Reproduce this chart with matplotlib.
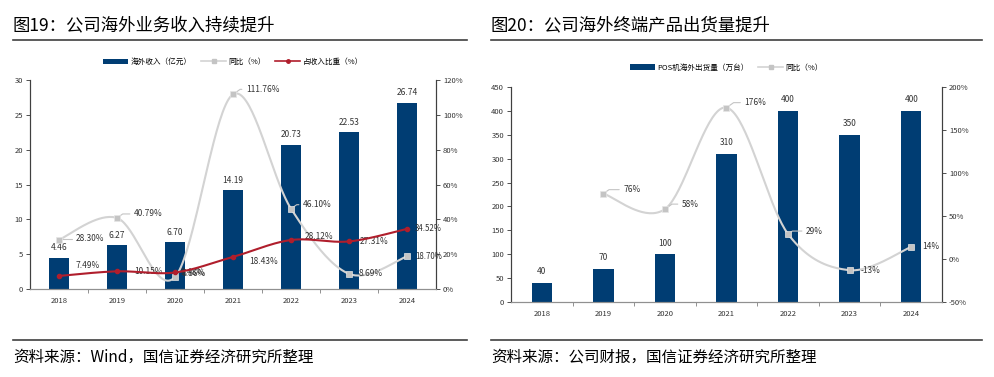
import numpy as np
import matplotlib
matplotlib.use('Agg')
import matplotlib.pyplot as plt
from matplotlib.lines import Line2D
from matplotlib.patches import Patch

plt.rcParams['font.family'] = ['Noto Sans CJK SC', 'DejaVu Sans']

# data
years = ['2018', '2019', '2020', '2021', '2022', '2023', '2024']
rev = [4.46, 6.27, 6.70, 14.19, 20.73, 22.53, 26.74]          # 海外收入（亿元）
rev_yoy = [28.30, 40.79, 6.86, 111.76, 46.10, 8.69, 18.70]    # 同比（%）
rev_share = [7.49, 10.15, 9.48, 18.43, 28.12, 27.31, 34.52]   # 占收入比重（%）

pos_years = ['2018', '2019', '2020', '2021', '2022', '2023', '2024']
pos_ship = [40, 70, 100, 310, 400, 350, 400]                  # POS机海外出货量（万台）
pos_yoy = [76, 58, 176, 29, -13, 14]                          # 同比（%），2019起

BAR = '#003D73'
RED = '#B01E2C'
GRAY = '#D3D3D3'
MGRAY = '#C4C4C4'
W, H = 995, 377


def smooth(x, y, n=40):
    # bezier smoothing like the office charts
    x = np.asarray(x, float)
    y = np.asarray(y, float)
    P = np.c_[x, y]
    P = np.vstack([P[0], P, P[-1]])
    t = np.linspace(0, 1, n)[:, None]
    out = []
    for k in range(len(x) - 1):
        p0, p1, p2, p3 = P[k], P[k + 1], P[k + 2], P[k + 3]
        c1 = p1 + (p2 - p0) / 6
        c2 = p2 - (p3 - p1) / 6
        seg = (1 - t) ** 3 * p1 + 3 * (1 - t) ** 2 * t * c1 + 3 * (1 - t) * t ** 2 * c2 + t ** 3 * p2
        out.append(seg)
    out = np.vstack(out)
    return out[:, 0], out[:, 1]


def px_axes(fig, x0, y0, x1, y1):
    return fig.add_axes([x0 / W, 1 - y1 / H, (x1 - x0) / W, (y1 - y0) / H])


def style_axes(ax, axr, n):
    ax.set_xlim(-0.5, n - 0.5)
    ax.set_xticks(range(n))
    ax.set_xticks(np.arange(0.5, n - 0.5, 1), minor=True)
    ax.tick_params(axis='x', which='major', length=0, labelsize=5.5, pad=6, colors='#333333')
    ax.tick_params(axis='x', which='minor', length=3, width=0.6, color='#808080')
    ax.tick_params(axis='y', length=3, width=0.6, labelsize=5.5, pad=2, colors='#333333')
    axr.tick_params(axis='y', length=3, width=0.6, labelsize=5.5, pad=2, colors='#333333')
    for a in (ax, axr):
        a.spines['top'].set_visible(False)
        a.spines['left'].set_color('#404040')
        a.spines['right'].set_color('#404040')
        a.spines['bottom'].set_color('#909090')
        for s in a.spines.values():
            s.set_linewidth(0.8)


def label(ax, x, y, txt, dx, dy, leader=False, fs=6):
    kw = dict(textcoords='offset pixels', ha='left', va='center', fontsize=fs, color='#333333')
    if leader:
        kw['arrowprops'] = dict(arrowstyle='-', color=MGRAY, lw=0.8, shrinkA=1, shrinkB=2,
                                connectionstyle='angle,angleA=0,angleB=35,rad=0')
    ax.annotate(txt, (x, y), xytext=(dx, dy), **kw)


fig = plt.figure(figsize=(W / 100, H / 100), dpi=100)

# titles, rules and sources
fig.text(13 / W, 1 - 25 / H, '图19：公司海外业务收入持续提升', fontsize=12.5, va='center')
fig.text(491 / W, 1 - 25 / H, '图20：公司海外终端产品出货量提升', fontsize=12.5, va='center')
fig.text(13 / W, 1 - 357.5 / H, '资料来源：Wind，国信证券经济研究所整理', fontsize=11.2, va='center')
fig.text(491 / W, 1 - 357.5 / H, '资料来源：公司财报，国信证券经济研究所整理', fontsize=11.2, va='center')
for x0, x1 in ((13, 467), (491, 982)):
    for yy in (39.5, 340):
        fig.add_artist(Line2D([x0 / W, x1 / W], [1 - yy / H, 1 - yy / H], color='#404040', lw=1.2))

# ---- 图19
ax1 = px_axes(fig, 30, 80, 436, 289)
ax1r = ax1.twinx()
xs = np.arange(len(years))
ax1.bar(xs, rev, width=0.33, color=BAR, zorder=2)
ax1.set_ylim(0, 30)
ax1.set_yticks(range(0, 31, 5))
ax1.set_xticklabels(years)
ax1r.set_ylim(0, 120)
ax1r.set_yticks(range(0, 121, 20))
ax1r.set_yticklabels([f'{v}%' for v in range(0, 121, 20)])
style_axes(ax1, ax1r, len(years))

sx, sy = smooth(xs, rev_yoy)
ax1r.plot(sx, sy, color=GRAY, lw=1.5, zorder=3)
ax1r.plot(xs, rev_yoy, ls='none', marker='s', ms=4, mfc=MGRAY, mec='#E6E6E6', mew=0.5, zorder=4)
sx, sy = smooth(xs, rev_share)
ax1r.plot(sx, sy, color=RED, lw=1.5, zorder=5)
ax1r.plot(xs, rev_share, ls='none', marker='o', ms=3, mfc=RED, mec=RED, zorder=6)

for i, v in enumerate(rev):
    ax1.annotate(f'{v:.2f}', (i, v), xytext=(0, 10), textcoords='offset pixels',
                 ha='center', va='center', fontsize=6, color='#333333')

yoy_off = [(17, 1, True), (17, 4, True), (6, 4, False), (13, 5, True), (12, 4, True), (10, 0, False), (8, 0, False)]
for i, v in enumerate(rev_yoy):
    dx, dy, ld = yoy_off[i]
    label(ax1r, i, v, f'{v:.2f}%', dx, dy, ld, fs=5.7 if i == 6 else 6)
share_off = [(17, 10), (17, 0), (6, 0), (16, -5), (14, 4), (11, 0), (8, 0)]
for i, v in enumerate(rev_share):
    dx, dy = share_off[i]
    label(ax1r, i, v, f'{v:.2f}%', dx, dy, fs=5.7 if i == 6 else 6)

h1 = [Patch(facecolor=BAR),
      Line2D([], [], color=GRAY, lw=1.2, marker='s', ms=3, mfc=MGRAY, mec=MGRAY),
      Line2D([], [], color=RED, lw=1.2, marker='o', ms=2.5, mfc=RED, mec=RED)]
ax1.legend(h1, ['海外收入（亿元）', '同比（%）', '占收入比重（%）'], loc='center',
           bbox_to_anchor=(0.5, 1.086), ncol=3, frameon=False, fontsize=5.5,
           handlelength=3.3, handleheight=0.7, columnspacing=1.2, handletextpad=0.3)

# ---- 图20
ax2 = px_axes(fig, 511, 87, 942, 302)
ax2r = ax2.twinx()
xs2 = np.arange(len(pos_years))
ax2.bar(xs2, pos_ship, width=0.33, color=BAR, zorder=2)
ax2.set_ylim(0, 450)
ax2.set_yticks(range(0, 451, 50))
ax2.set_xticklabels(pos_years)
ax2r.set_ylim(-50, 200)
ax2r.set_yticks(range(-50, 201, 50))
ax2r.set_yticklabels([f'{v}%' for v in range(-50, 201, 50)])
style_axes(ax2, ax2r, len(pos_years))

yx = xs2[1:]
sx, sy = smooth(yx, pos_yoy)
ax2r.plot(sx, sy, color=GRAY, lw=1.5, zorder=3)
ax2r.plot(yx, pos_yoy, ls='none', marker='s', ms=4, mfc=MGRAY, mec='#E6E6E6', mew=0.5, zorder=4)

for i, v in enumerate(pos_ship):
    ax2.annotate(f'{v}', (i, v), xytext=(0, 11), textcoords='offset pixels',
                 ha='center', va='center', fontsize=6, color='#333333')
pos_off = [(20, 4, True), (17, 5, True), (18, 5, True), (18, 3, True), (11, 0, False), (11, 0, False)]
for x, v, (dx, dy, ld) in zip(yx, pos_yoy, pos_off):
    label(ax2r, x, v, f'{v}%', dx, dy, ld)

h2 = [Patch(facecolor=BAR),
      Line2D([], [], color=GRAY, lw=1.2, marker='s', ms=3, mfc=MGRAY, mec=MGRAY)]
ax2.legend(h2, ['POS机海外出货量（万台）', '同比（%）'], loc='center',
           bbox_to_anchor=(0.5, 1.09), ncol=2, frameon=False, fontsize=5.5,
           handlelength=3.3, handleheight=0.7, columnspacing=1.2, handletextpad=0.3)

fig.savefig('out.png', dpi=100)
